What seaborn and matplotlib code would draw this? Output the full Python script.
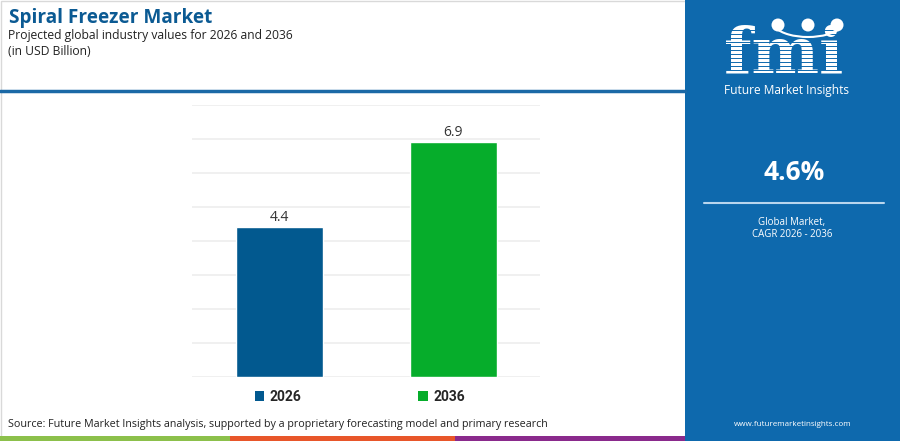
import matplotlib
matplotlib.use('Agg')
import matplotlib.pyplot as plt
import seaborn as sns
import pandas as pd
from matplotlib.patches import Rectangle, Patch, Ellipse, Arc
from matplotlib.lines import Line2D

# Données du graphique
annees = ['2026', '2036']
valeurs = [4.4, 6.9]
couleurs = ['#02598f', '#06ad2b']
cagr = '4.6%'

df = pd.DataFrame({'annee': annees, 'valeur': valeurs})

sns.set_theme(style='white')
plt.rcParams['font.family'] = ['Open Sans', 'DejaVu Sans']

W, H = 900, 441
fig = plt.figure(figsize=(W / 100, H / 100), dpi=100)
fig.patch.set_facecolor('white')

def px(x, y):
    # pixels (origine en haut à gauche) -> fraction de la figure
    return x / W, 1 - y / H

# Cadre gauche + ligne bleue d'en-tête
fig.patches.append(Rectangle(px(0.5, 440.5), 685 / W, 440 / H, transform=fig.transFigure,
                             facecolor='none', edgecolor='#d9d9d9', lw=1))
fig.add_artist(Line2D([0, 685 / W], [1 - 90.5 / H] * 2, transform=fig.transFigure,
                      color='#1b69a6', lw=2.5))

# Bandes de couleur en bas
for x0, x1, c in [(0, 230, '#8cc04b'), (230, 455, '#e8562a'), (455, 685, '#8a2a8c')]:
    fig.patches.append(Rectangle(px(x0, 441), (x1 - x0) / W, 5 / H, transform=fig.transFigure,
                                 facecolor=c, edgecolor='none'))

# Titres
fig.text(*px(9, 18.5), 'Spiral Freezer Market', fontsize=13.7, fontweight='bold',
         color='#0b5a93', va='center', ha='left')
fig.text(*px(8, 36), 'Projected global industry values for 2026 and 2036', fontsize=8.75,
         color='#222222', va='center', ha='left')
fig.text(*px(8, 51.5), '(in USD Billion)', fontsize=8.75, color='#222222', va='center', ha='left')

# Graphique en barres
ax = fig.add_axes([192 / W, (H - 377) / H, 348 / W, 272 / H])
sns.barplot(data=df, x='annee', y='valeur', hue='annee', palette=couleurs, width=0.5,
            legend=False, ax=ax, saturation=1)
ax.set_ylim(0, 8)
ax.set_xlim(-0.5, 1.5)
ax.set_yticks(range(0, 9))
ax.yaxis.grid(True, color='#eeeeee', lw=1.2)
ax.set_axisbelow(True)
for s in ax.spines.values():
    s.set_visible(False)
ax.set_xticks([])
ax.set_yticklabels([])
ax.tick_params(left=False, bottom=False)
ax.set_xlabel('')
ax.set_ylabel('')
for cont in ax.containers:
    ax.bar_label(cont, fmt='%.1f', padding=2, fontsize=10, color='#333333')

# Légende
handles = [Patch(facecolor=c, edgecolor='none', label=a) for a, c in zip(annees, couleurs)]
fig.legend(handles=handles, loc='center', bbox_to_anchor=px(360, 397), ncol=2,
           frameon=False, handlelength=0.7, handleheight=0.7, handletextpad=0.4,
           columnspacing=8.4, prop={'weight': 'bold', 'size': 10, 'family': 'Roboto'})

# Source
fig.text(*px(8, 425), 'Source: Future Market Insights analysis, supported by a proprietary forecasting model and primary research',
         fontsize=7.75, color='#222222', va='center', ha='left')

# Panneau de droite
bleu = '#0e69ad'
fig.patches.append(Rectangle(px(685, 441), (W - 685) / W, 1, transform=fig.transFigure,
                             facecolor=bleu, edgecolor='none'))

# Logo fmi (approximation)
fig.text(*px(784, 72), 'fmi', fontsize=46, fontweight='bold', family='DejaVu Serif',
         color='white', ha='center', va='baseline')
for yy in range(30, 73, 4):
    fig.add_artist(Line2D([715 / W, 855 / W], [1 - yy / H] * 2, transform=fig.transFigure,
                          color=bleu, lw=0.7, zorder=5))
for cx in [778, 808, 837]:
    fig.patches.append(Ellipse(px(cx, 25), 13 / W, 13 / H, transform=fig.transFigure,
                               facecolor='white', edgecolor='none', zorder=6))
fig.patches.append(Arc(px(808, 22), 70 / W, 30 / H, theta1=200, theta2=340,
                       transform=fig.transFigure, color='white', lw=1.5, zorder=6))
fig.text(*px(786, 91), 'Future Market Insights', fontsize=8.6, color='white',
         ha='center', va='center')

fig.text(*px(794, 172), cagr, fontsize=19, fontweight='bold', color='white',
         ha='center', va='center')
fig.add_artist(Line2D([704 / W, 884 / W], [1 - 203 / H] * 2, transform=fig.transFigure,
                      color='#b9d6ee', lw=1.5))
fig.text(*px(792, 222), 'Global Market,', fontsize=7, color='white', ha='center', va='center')
fig.text(*px(792, 234), 'CAGR 2026 - 2036', fontsize=7, color='white', ha='center', va='center')
fig.text(*px(793, 425), 'www.futuremarketinsights.com', fontsize=5.8, color='white',
         ha='center', va='center')

plt.savefig('out.png', dpi=100)
